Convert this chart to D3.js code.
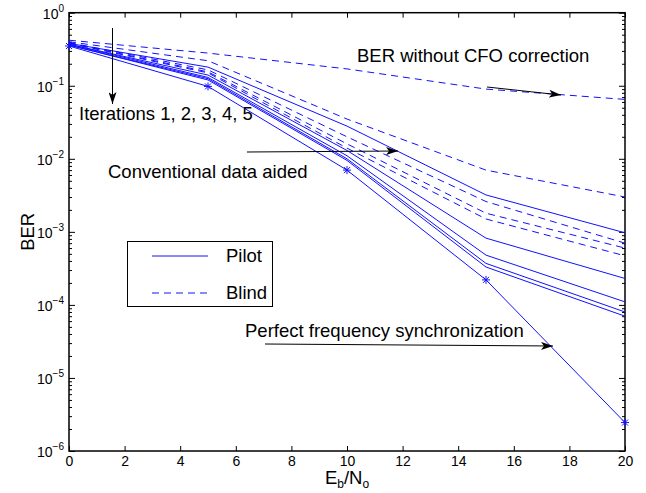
<!DOCTYPE html>
<html>
<head>
<meta charset="utf-8">
<script src="https://cdn.jsdelivr.net/npm/d3@7"></script>
<style>
body { margin: 0; background: #fff; }
text { font-family: "Liberation Sans", Arial, sans-serif; fill: #000; }
</style>
</head>
<body>
<div id="svgDiv"></div>
<script>
var w = 646, h = 493;

// Eb/No points
var snr = [0, 5, 10, 15, 20];

// BER curves
var noCfo = [0.42, 0.28, 0.17, 0.09, 0.065];
var blind1 = [0.40, 0.22, 0.035, 7e-3, 3e-3];
var blind2 = [0.39, 0.165, 0.020, 2.6e-3, 7e-4];
var blind3 = [0.385, 0.155, 0.016, 1.8e-3, 6e-4];
var blind4 = [0.38, 0.15, 0.014, 1.5e-3, 4.7e-4];
var conventional = [0.38, 0.18, 0.028, 3.2e-3, 9.7e-4];
var pilot1 = [0.37, 0.14, 0.013, 8.2e-4, 2.3e-4];
var pilot2 = [0.37, 0.13, 0.011, 4.8e-4, 1.1e-4];
var pilot3 = [0.36, 0.125, 0.010, 3.7e-4, 8e-5];
var pilot4 = [0.36, 0.12, 0.0095, 3.3e-4, 7e-5];
var perfect = [0.35, 0.098, 7e-3, 2.2e-4, 2.45e-6];

var xTicks = [0, 2, 4, 6, 8, 10, 12, 14, 16, 18, 20];
var yDecades = [0, -1, -2, -3, -4, -5, -6];

var series = [
	{vals: noCfo, dash: true},
	{vals: blind1, dash: true},
	{vals: blind2, dash: true},
	{vals: blind3, dash: true},
	{vals: blind4, dash: true},
	{vals: conventional, dash: false},
	{vals: pilot1, dash: false},
	{vals: pilot2, dash: false},
	{vals: pilot3, dash: false},
	{vals: pilot4, dash: false},
	{vals: perfect, dash: false, star: true}
];

var pl = 69, pr = 625, pt = 12.7, pb = 451;
var blue = "#1010ff";
var fs = "18.5px";

var svg = d3.select("#svgDiv")
	.append("svg")
	.attr("width", w)
	.attr("height", h);

var x = d3.scaleLinear().domain([0, 20]).range([pl, pr]);
var y = d3.scaleLog().domain([1e-6, 1]).range([pb, pt]);

// minor ticks 2..9 per decade
var minor = [];
yDecades.slice(1).forEach(function(e) {
	for (var k = 2; k < 10; k++) minor.push(k * Math.pow(10, e));
});
var major = yDecades.map(function(e) { return Math.pow(10, e); });

function styleAxis(g) {
	g.select(".domain").remove();
	g.selectAll("line").attr("stroke", "#000").attr("stroke-width", 1);
	g.selectAll("text").style("font-size", "14px").style("font-family", "Liberation Sans, Arial, sans-serif");
}

// x axes
svg.append("g").attr("transform", "translate(0," + pb + ")")
	.call(d3.axisBottom(x).tickValues(xTicks).tickSize(-5).tickPadding(5).tickFormat(d3.format("d")))
	.call(styleAxis);
svg.append("g").attr("transform", "translate(0," + pt + ")")
	.call(d3.axisTop(x).tickValues(xTicks).tickSize(-5).tickFormat(""))
	.call(styleAxis);

// y axes, major
svg.append("g").attr("transform", "translate(" + pl + ",0)")
	.call(d3.axisLeft(y).tickValues(major).tickSize(-6).tickFormat(""))
	.call(styleAxis);
svg.append("g").attr("transform", "translate(" + pr + ",0)")
	.call(d3.axisRight(y).tickValues(major).tickSize(-6).tickFormat(""))
	.call(styleAxis);
// minor
svg.append("g").attr("transform", "translate(" + pl + ",0)")
	.call(d3.axisLeft(y).tickValues(minor).tickSize(-3).tickFormat(""))
	.call(styleAxis);
svg.append("g").attr("transform", "translate(" + pr + ",0)")
	.call(d3.axisRight(y).tickValues(minor).tickSize(-3).tickFormat(""))
	.call(styleAxis);

// decade labels 10^e
yDecades.forEach(function(e) {
	var t = svg.append("text")
		.attr("x", 64)
		.attr("y", y(Math.pow(10, e)) + 6)
		.attr("text-anchor", "end")
		.style("font-size", "14px");
	t.append("tspan").text("10");
	t.append("tspan").attr("dy", -7).style("font-size", "10px").text(e == 0 ? "0" : "\u2212" + (-e));
});

// box
svg.append("rect")
	.attr("x", pl).attr("y", pt)
	.attr("width", pr - pl).attr("height", pb - pt)
	.attr("fill", "none").attr("stroke", "#000").attr("stroke-width", 1.5);

// curves
var line = d3.line()
	.x(function(d, i) { return x(snr[i]); })
	.y(function(d) { return y(d); });

svg.selectAll(".curve")
	.data(series)
	.enter()
	.append("path")
	.classed("curve", true)
	.attr("d", function(d) { return line(d.vals); })
	.attr("fill", "none")
	.attr("stroke", blue)
	.attr("stroke-width", 1)
	.attr("stroke-dasharray", function(d) { return d.dash ? "7,5" : null; });

// star markers
var starSeries = series.filter(function(s) { return s.star; })[0];
var stars = svg.selectAll(".star")
	.data(starSeries.vals)
	.enter()
	.append("g")
	.attr("transform", function(d, i) { return "translate(" + x(snr[i]) + "," + y(d) + ")"; });
[[-4, 0, 4, 0], [0, -4, 0, 4], [-3, -3, 3, 3], [-3, 3, 3, -3]].forEach(function(s) {
	stars.append("line")
		.attr("x1", s[0]).attr("y1", s[1]).attr("x2", s[2]).attr("y2", s[3])
		.attr("stroke", blue).attr("stroke-width", 1);
});

// arrow head
svg.append("defs").append("marker")
	.attr("id", "head")
	.attr("viewBox", "0 0 12 8")
	.attr("refX", 12).attr("refY", 4)
	.attr("markerWidth", 12).attr("markerHeight", 8)
	.attr("markerUnits", "userSpaceOnUse")
	.attr("orient", "auto")
	.append("path")
	.attr("d", "M0,0 L12,4 L0,8 L3,4 Z")
	.attr("fill", "#000");

function arrow(x1, y1, x2, y2) {
	svg.append("line")
		.attr("x1", x1).attr("y1", y1).attr("x2", x2).attr("y2", y2)
		.attr("stroke", "#000").attr("stroke-width", 1)
		.attr("marker-end", "url(#head)");
}

function label(tx, ty, s) {
	svg.append("text").attr("x", tx).attr("y", ty).style("font-size", fs).text(s);
}

label(357, 62, "BER without CFO correction");
arrow(487, 87, 561, 95);

label(79, 120, "Iterations 1, 2, 3, 4, 5");
arrow(112.5, 28, 112.5, 104);

label(108, 178, "Conventional data aided");
arrow(247, 152, 398, 151);

label(245, 337, "Perfect frequency synchronization");
arrow(265, 344, 553, 346);

// legend
var lg = svg.append("g");
lg.append("rect")
	.attr("x", 127.5).attr("y", 241.5).attr("width", 145).attr("height", 65)
	.attr("fill", "#fff").attr("stroke", "#000").attr("stroke-width", 1);
var legendItems = [{name: "Pilot", dash: false, yy: 256}, {name: "Blind", dash: true, yy: 293}];
legendItems.forEach(function(d) {
	lg.append("line")
		.attr("x1", 152).attr("x2", 208).attr("y1", d.yy).attr("y2", d.yy)
		.attr("stroke", blue).attr("stroke-width", 1)
		.attr("stroke-dasharray", d.dash ? "7,5" : null);
	lg.append("text").attr("x", 226).attr("y", d.yy + 6).style("font-size", fs).text(d.name);
});

// axis titles
svg.append("text")
	.attr("transform", "translate(34," + ((pt + pb) / 2) + ") rotate(-90)")
	.attr("text-anchor", "middle")
	.style("font-size", fs)
	.text("BER");

var xl = svg.append("text")
	.attr("x", 347).attr("y", 484)
	.attr("text-anchor", "middle")
	.style("font-size", fs);
xl.append("tspan").text("E");
xl.append("tspan").attr("dy", 4).style("font-size", "12px").text("b");
xl.append("tspan").attr("dy", -4).text("/N");
xl.append("tspan").attr("dy", 4).style("font-size", "12px").text("o");
</script>
</body>
</html>
